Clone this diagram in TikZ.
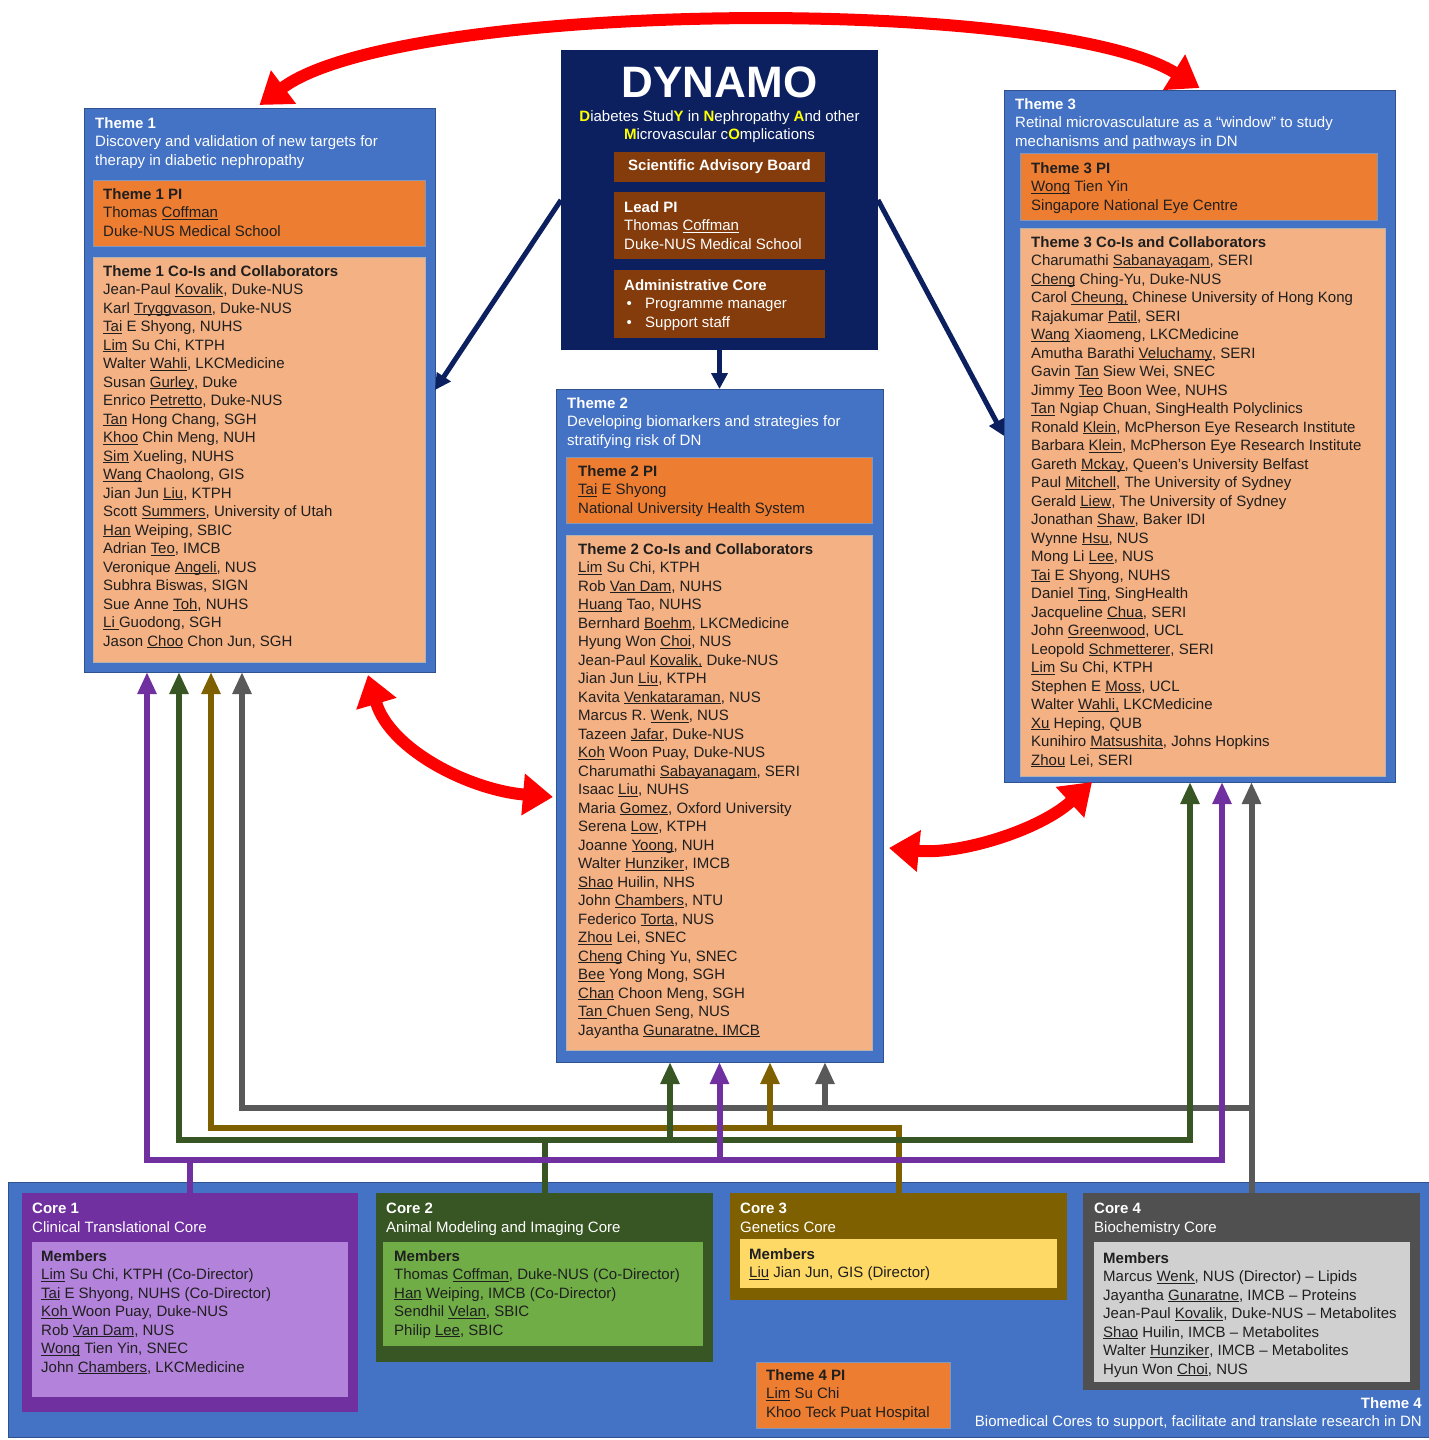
\documentclass[tikz,border=0pt]{standalone}
\usepackage{fontspec}
\setmainfont{Liberation Sans}
\usetikzlibrary{arrows.meta,positioning}

\definecolor{navy}{HTML}{0C2060}
\definecolor{brownbox}{HTML}{843C0C}
\definecolor{themeblue}{HTML}{4472C4}
\definecolor{blueline}{HTML}{2F528F}
\definecolor{piorange}{HTML}{ED7D31}
\definecolor{coorange}{HTML}{F4B183}
\definecolor{cpurple}{HTML}{7030A0}
\definecolor{lpurple}{HTML}{B383DB}
\definecolor{cgreen}{HTML}{375623}
\definecolor{lgreen}{HTML}{70AD47}
\definecolor{colive}{HTML}{7F6000}
\definecolor{lyellow}{HTML}{FFD966}
\definecolor{cgray}{HTML}{505050}
\definecolor{lgray}{HTML}{D0D0D0}
\definecolor{busgray}{HTML}{595959}
\definecolor{inkdark}{HTML}{1F1F1F}
\definecolor{redarr}{HTML}{FF0000}
\definecolor{acro}{HTML}{FFFF00}

\newcommand{\sur}[1]{\underline{\smash{#1}}}
\newcommand{\ac}[1]{\textcolor{acro}{\textbf{#1}}}

\begin{document}
\begin{tikzpicture}[x=1pt,y=-1pt]

\tikzset{panel/.style = {rectangle,inner sep=0pt,outer sep=0pt,line width=1pt}}
\tikzset{theme/.style = {panel,fill=themeblue,draw=blueline}}
\tikzset{pibox/.style = {panel,fill=piorange,draw=blueline!60}}
\tikzset{cobox/.style = {panel,fill=coorange,draw=gray!60}}
\tikzset{txt/.style = {anchor=north west,inner sep=0pt,align=left,font=\fontsize{15}{18.5}\selectfont,text=inkdark}}
\tikzset{wtxt/.style = {txt,text=white}}
\tikzset{navyarrow/.style = {draw=navy,line width=5pt,-{Triangle[width=16pt,length=16pt]}}}
\tikzset{redarrow/.style = {draw=redarr,line width=12pt,{Triangle[width=40pt,length=30pt]}-{Triangle[width=40pt,length=30pt]}}}
\tikzset{bus/.style = {draw=#1,line width=6pt,-{Triangle[width=18pt,length=22pt]}}}

\useasboundingbox (0,0) rectangle (1429,1440);
\fill[white] (0,0) rectangle (1429,1440);

% DYNAMO
\node[panel,fill=navy,minimum width=317pt,minimum height=300pt] (dynamo) at (719.5,200) {};
\node[inner sep=0pt,text=white,font=\fontsize{44}{44}\selectfont\bfseries] (dyntitle) at ([yshift=-32pt]dynamo.north) {DYNAMO};
\node[inner sep=0pt,text=white,align=center,font=\fontsize{15}{18.5}\selectfont] (dynsub) at ([yshift=-76.5pt]dynamo.north) {\ac{D}iabetes Stud\ac{Y} in \ac{N}ephropathy \ac{A}nd other\\\ac{M}icrovascular c\ac{O}mplications};
\node[panel,fill=brownbox,minimum width=211pt,minimum height=30pt] (sab) at (719.5,167) {};
\node[inner sep=0pt,text=white,font=\fontsize{15}{18.5}\selectfont\bfseries] (sabtext) at (sab) {Scientific Advisory Board};
\node[panel,fill=brownbox,minimum width=211pt,minimum height=67pt] (leadpi) at (719.5,225.5) {};
\node[wtxt] (leadpitext) at ([shift={(10,9)}]leadpi.north west) {\textbf{Lead PI}\\Thomas \sur{Coffman}\\Duke-NUS Medical School};
\node[panel,fill=brownbox,minimum width=211pt,minimum height=68pt] (admin) at (719.5,304) {};
\node[wtxt] (admintext) at ([shift={(10,9)}]admin.north west) {\textbf{Administrative Core}\\\makebox[21pt][l]{\,•}Programme manager\\\makebox[21pt][l]{\,•}Support staff};

% Theme 1
\node[theme,minimum width=351pt,minimum height=564pt] (theme1) at (259.5,390) {};
\node[wtxt] (t1head) at ([shift={(11,9)}]theme1.north west) {\textbf{Theme 1}\\Discovery and validation of new targets for\\therapy in diabetic nephropathy};
\node[pibox,minimum width=332pt,minimum height=66pt] (t1pi) at (259,213) {};
\node[txt] (t1pitext) at ([shift={(10,8)}]t1pi.north west) {\textbf{Theme 1 PI}\\Thomas \sur{Coffman}\\Duke-NUS Medical School};
\node[cobox,minimum width=332pt,minimum height=405pt] (t1co) at (259,459.5) {};
\node[txt] (t1cotext) at ([shift={(10,8)}]t1co.north west) {\textbf{Theme 1 Co-Is and Collaborators}\\
Jean-Paul \sur{Kovalik}, Duke-NUS\\
Karl \sur{Tryggvason}, Duke-NUS\\
\sur{Tai} E Shyong, NUHS\\
\sur{Lim} Su Chi, KTPH\\
Walter \sur{Wahli}, LKCMedicine\\
Susan \sur{Gurley}, Duke\\
Enrico \sur{Petretto}, Duke-NUS\\
\sur{Tan} Hong Chang, SGH\\
\sur{Khoo} Chin Meng, NUH\\
\sur{Sim} Xueling, NUHS\\
\sur{Wang} Chaolong, GIS\\
Jian Jun \sur{Liu}, KTPH\\
Scott \sur{Summers}, University of Utah\\
\sur{Han} Weiping, SBIC\\
Adrian \sur{Teo}, IMCB\\
Veronique \sur{Angeli}, NUS\\
Subhra Biswas, SIGN\\
Sue Anne \sur{Toh}, NUHS\\
\sur{Li }Guodong, SGH\\
Jason \sur{Choo} Chon Jun, SGH};

% Theme 2
\node[theme,minimum width=327pt,minimum height=673pt] (theme2) at (719.5,725.5) {};
\node[wtxt] (t2head) at ([shift={(11,8)}]theme2.north west) {\textbf{Theme 2}\\Developing biomarkers and strategies for\\stratifying risk of DN};
\node[pibox,minimum width=306pt,minimum height=66pt] (t2pi) at (719,490) {};
\node[txt] (t2pitext) at ([shift={(12,8)}]t2pi.north west) {\textbf{Theme 2 PI}\\\sur{Tai} E Shyong\\National University Health System};
\node[cobox,minimum width=306pt,minimum height=515pt] (t2co) at (719,792.5) {};
\node[txt] (t2cotext) at ([shift={(12,8)}]t2co.north west) {\textbf{Theme 2 Co-Is and Collaborators}\\
\sur{Lim} Su Chi, KTPH\\
Rob \sur{Van Dam}, NUHS\\
\sur{Huang} Tao, NUHS\\
Bernhard \sur{Boehm}, LKCMedicine\\
Hyung Won \sur{Choi}, NUS\\
Jean-Paul \sur{Kovalik,} Duke-NUS\\
Jian Jun \sur{Liu}, KTPH\\
Kavita \sur{Venkataraman}, NUS\\
Marcus R. \sur{Wenk}, NUS\\
Tazeen \sur{Jafar}, Duke-NUS\\
\sur{Koh} Woon Puay, Duke-NUS\\
Charumathi \sur{Sabayanagam}, SERI\\
Isaac \sur{Liu}, NUHS\\
Maria \sur{Gomez}, Oxford University\\
Serena \sur{Low}, KTPH\\
Joanne \sur{Yoong}, NUH\\
Walter \sur{Hunziker}, IMCB\\
\sur{Shao} Huilin, NHS\\
John \sur{Chambers}, NTU\\
Federico \sur{Torta}, NUS\\
\sur{Zhou} Lei, SNEC\\
\sur{Cheng} Ching Yu, SNEC\\
\sur{Bee} Yong Mong, SGH\\
\sur{Chan} Choon Meng, SGH\\
\sur{Tan }Chuen Seng, NUS\\
Jayantha \sur{Gunaratne, IMCB}};

% Theme 3
\node[theme,minimum width=391pt,minimum height=692pt] (theme3) at (1199.5,436) {};
\node[wtxt] (t3head) at ([shift={(11,8)}]theme3.north west) {\textbf{Theme 3}\\Retinal microvasculature as a “window” to study\\mechanisms and pathways in DN};
\node[pibox,minimum width=357pt,minimum height=67pt] (t3pi) at (1198.5,186.5) {};
\node[txt] (t3pitext) at ([shift={(11,9)}]t3pi.north west) {\textbf{Theme 3 PI}\\\sur{Wong} Tien Yin\\Singapore National Eye Centre};
\node[cobox,minimum width=365pt,minimum height=548pt] (t3co) at (1202.5,502) {};
\node[txt] (t3cotext) at ([shift={(11,8)}]t3co.north west) {\textbf{Theme 3 Co-Is and Collaborators}\\
Charumathi \sur{Sabanayagam}, SERI\\
\sur{Cheng} Ching-Yu, Duke-NUS\\
Carol \sur{Cheung,} Chinese University of Hong Kong\\
Rajakumar \sur{Patil}, SERI\\
\sur{Wang} Xiaomeng, LKCMedicine\\
Amutha Barathi \sur{Veluchamy}, SERI\\
Gavin \sur{Tan} Siew Wei, SNEC\\
Jimmy \sur{Teo} Boon Wee, NUHS\\
\sur{Tan} Ngiap Chuan, SingHealth Polyclinics\\
Ronald \sur{Klein}, McPherson Eye Research Institute\\
Barbara \sur{Klein}, McPherson Eye Research Institute\\
Gareth \sur{Mckay}, Queen’s University Belfast\\
Paul \sur{Mitchell}, The University of Sydney\\
Gerald \sur{Liew}, The University of Sydney\\
Jonathan \sur{Shaw}, Baker IDI\\
Wynne \sur{Hsu}, NUS\\
Mong Li \sur{Lee}, NUS\\
\sur{Tai} E Shyong, NUHS\\
Daniel \sur{Ting}, SingHealth\\
Jacqueline \sur{Chua}, SERI\\
John \sur{Greenwood}, UCL\\
Leopold \sur{Schmetterer}, SERI\\
\sur{Lim} Su Chi, KTPH\\
Stephen E \sur{Moss}, UCL\\
Walter \sur{Wahli,} LKCMedicine\\
\sur{Xu} Heping, QUB\\
Kunihiro \sur{Matsushita}, Johns Hopkins\\
\sur{Zhou} Lei, SERI};

% Theme 4 and cores
\node[theme,minimum width=1421pt,minimum height=255pt] (theme4) at (718.5,1309.5) {};
\node[wtxt,anchor=north east,align=right] (t4head) at ([shift={(-7,-40)}]theme4.south east) {\textbf{Theme 4}\\Biomedical Cores to support, facilitate and translate research in DN};
\node[pibox,minimum width=194pt,minimum height=66pt] (t4pi) at (853,1395) {};
\node[txt] (t4pitext) at ([shift={(10,7)}]t4pi.north west) {\textbf{Theme 4 PI}\\\sur{Lim} Su Chi\\Khoo Teck Puat Hospital};

\node[panel,fill=cpurple,minimum width=336pt,minimum height=219pt] (core1) at (190,1302.5) {};
\node[wtxt] (core1text) at ([shift={(10,10)}]core1.north west) {\textbf{Core 1}\\Clinical Translational Core};
\node[panel,fill=lpurple,minimum width=316pt,minimum height=155pt] (core1mem) at (190,1319.5) {};
\node[txt] (core1memtext) at ([shift={(9,8)}]core1mem.north west) {\textbf{Members}\\
\sur{Lim} Su Chi, KTPH (Co-Director)\\
\sur{Tai} E Shyong, NUHS (Co-Director)\\
\sur{Koh }Woon Puay, Duke-NUS\\
Rob \sur{Van Dam}, NUS\\
\sur{Wong} Tien Yin, SNEC\\
John \sur{Chambers}, LKCMedicine};

\node[panel,fill=cgreen,minimum width=337pt,minimum height=169pt] (core2) at (544.5,1277.5) {};
\node[wtxt] (core2text) at ([shift={(10,10)}]core2.north west) {\textbf{Core 2}\\Animal Modeling and Imaging Core};
\node[panel,fill=lgreen,minimum width=320pt,minimum height=104pt] (core2mem) at (543,1294) {};
\node[txt] (core2memtext) at ([shift={(11,8)}]core2mem.north west) {\textbf{Members}\\
Thomas \sur{Coffman}, Duke-NUS (Co-Director)\\
\sur{Han} Weiping, IMCB (Co-Director)\\
Sendhil \sur{Velan}, SBIC\\
Philip \sur{Lee}, SBIC};

\node[panel,fill=colive,minimum width=337pt,minimum height=107pt] (core3) at (898.5,1246.5) {};
\node[wtxt] (core3text) at ([shift={(10,10)}]core3.north west) {\textbf{Core 3}\\Genetics Core};
\node[panel,fill=lyellow,minimum width=317pt,minimum height=49pt] (core3mem) at (898.5,1263.5) {};
\node[txt] (core3memtext) at ([shift={(9,9)}]core3mem.north west) {\textbf{Members}\\\sur{Liu} Jian Jun, GIS (Director)};

\node[panel,fill=cgray,minimum width=337pt,minimum height=197pt] (core4) at (1251.5,1291.5) {};
\node[wtxt] (core4text) at ([shift={(11,10)}]core4.north west) {\textbf{Core 4}\\Biochemistry Core};
\node[panel,fill=lgray,minimum width=316pt,minimum height=140pt] (core4mem) at (1252,1312) {};
\node[txt] (core4memtext) at ([shift={(9,10)}]core4mem.north west) {\textbf{Members}\\
Marcus \sur{Wenk}, NUS (Director) – Lipids\\
Jayantha \sur{Gunaratne}, IMCB – Proteins\\
Jean-Paul \sur{Kovalik}, Duke-NUS – Metabolites\\
\sur{Shao} Huilin, IMCB – Metabolites\\
Walter \sur{Hunziker}, IMCB – Metabolites\\
Hyun Won \sur{Choi}, NUS};

% core connectors
\draw[bus=busgray] (core4.north) -- ++(0,-85) -| ([xshift=-17.5pt]theme1.south);
\draw[bus=busgray] (core4.north) -- ++(0,-85) -| ([xshift=105.5pt]theme2.south);
\draw[bus=busgray] (core4.north) -- (core4.north |- theme3.south);
\draw[bus=colive] (core3.north) -- ++(0,-65) -| ([xshift=-48.5pt]theme1.south);
\draw[bus=colive] (core3.north) -- ++(0,-65) -| ([xshift=50.5pt]theme2.south);
\draw[bus=cgreen] (core2.north) -- ++(0,-53) -| ([xshift=-80.5pt]theme1.south);
\draw[bus=cgreen] (core2.north) -- ++(0,-53) -| ([xshift=-49.5pt]theme2.south);
\draw[bus=cgreen] (core2.north) -- ++(0,-53) -| ([xshift=-9.5pt]theme3.south);
\draw[bus=cpurple] (core1.north) -- ++(0,-33) -| ([xshift=-112.5pt]theme1.south);
\draw[bus=cpurple] (core1.north) -- ++(0,-33) -| (theme2.south);
\draw[bus=cpurple] (core1.north) -- ++(0,-33) -| ([xshift=22.5pt]theme3.south);

% DYNAMO to themes
\draw[navyarrow] (dynamo.west) -- (theme1.east);
\draw[navyarrow] (dynamo.east) -- (theme3.west);
\draw[navyarrow] (dynamo.south) -- (theme2.north);

% theme links
\draw[redarrow] ([yshift=3pt]theme1.north) .. controls (400,0) and (1050,-5) .. ([yshift=2pt]theme3.north);
\draw[redarrow] ([xshift=-67pt,yshift=-3pt]theme1.south east) .. controls (390,750) and (470,790) .. ([xshift=-3pt,yshift=-71.5pt]theme2.west);
\draw[redarrow] ([xshift=6pt,yshift=-122.5pt]theme2.east) .. controls (960,855) and (1040,830) .. ([xshift=-107.5pt]theme3.south);

\end{tikzpicture}
\end{document}
